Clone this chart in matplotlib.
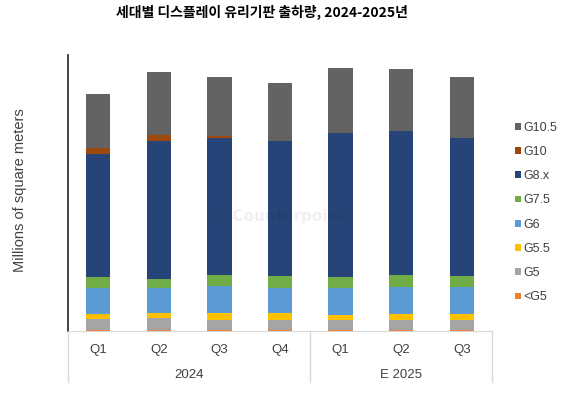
import matplotlib.pyplot as plt
import numpy as np

plt.rcParams['font.family'] = ['Noto Sans CJK KR', 'DejaVu Sans']

# quarters and years
quarters = ["Q1", "Q2", "Q3", "Q4", "Q1", "Q2", "Q3"]
years = ["2024", "E 2025"]
year_spans = [(0, 4), (4, 7)]

# shipments by glass generation (arbitrary units)
lt_g5 = [1.0, 1.0, 1.0, 1.0, 1.0, 1.0, 1.0]
g5 = [10.7, 11.7, 10.0, 9.7, 9.7, 9.7, 9.7]
g5_5 = [5.3, 5.6, 7.3, 7.0, 5.6, 6.0, 6.0]
g6 = [25.7, 24.4, 27.0, 25.6, 26.7, 27.3, 27.3]
g7_5 = [11.6, 9.3, 10.7, 12.0, 11.3, 11.7, 11.3]
g8x = [122.4, 138.0, 137.5, 135.0, 144.0, 144.0, 138.0]
g10 = [6.0, 6.0, 1.5, 0.0, 0.0, 0.0, 0.0]
g10_5 = [54.0, 63.3, 59.3, 58.0, 65.0, 62.6, 61.0]

series = [
    ("<G5", lt_g5, "#ED7D31"),
    ("G5", g5, "#A5A5A5"),
    ("G5.5", g5_5, "#FFC000"),
    ("G6", g6, "#5B9BD5"),
    ("G7.5", g7_5, "#70AD47"),
    ("G8.x", g8x, "#264478"),
    ("G10", g10, "#9E480E"),
    ("G10.5", g10_5, "#636363"),
]

fig = plt.figure(figsize=(5.68, 3.95), dpi=100)
ax = fig.add_axes([68 / 568, 64 / 395, 424 / 568, 276 / 395])

x = np.arange(len(quarters))
bottom = np.zeros(len(quarters))
for name, vals, color in series:
    ax.bar(x, vals, 0.4, bottom=bottom, color=color, label=name)
    bottom += np.array(vals)

ax.set_xlim(-0.5, len(quarters) - 0.5)
ax.set_ylim(0, 276)
ax.set_yticks([])
ax.set_xticks([])
for side in ["top", "right"]:
    ax.spines[side].set_visible(False)
ax.spines["left"].set_color("#222222")
ax.spines["left"].set_linewidth(1.2)
ax.spines["bottom"].set_color("#d9d9d9")

# two-level category axis
txt = "#404040"
for i, q in enumerate(quarters):
    ax.text(i, -18.5, q, ha="center", va="center", fontsize=9.5, color=txt,
            family="Liberation Sans")
for (a, b), yr in zip(year_spans, years):
    ax.text((a + b - 1) / 2, -43.5, yr, ha="center", va="center", fontsize=9.5,
            color=txt, family="Liberation Sans")
for pos in [-0.5, 3.5, 6.5]:
    ax.plot([pos, pos], [0, -51], color="#d9d9d9", lw=1, clip_on=False)

fig.text(20 / 568, 1 - 190 / 395, "Millions of square meters", rotation=90,
         ha="center", va="center", fontsize=10.5, color=txt,
         family="Liberation Sans")

# faint watermark
ax.text(3.0, 115, "\u25CE Counterpoint", ha="center", va="center", fontsize=11,
        color="#000000", alpha=0.06, fontweight="bold", family="DejaVu Sans")

handles, labels = ax.get_legend_handles_labels()
leg = fig.legend(handles[::-1], labels[::-1], loc="center left",
                 bbox_to_anchor=(515 / 568, 1 - 212.5 / 395), frameon=False,
                 borderpad=0, borderaxespad=0,
                 handlelength=0.45, handleheight=0.45, handletextpad=0.25,
                 labelspacing=0.98, prop={"family": "Liberation Sans", "size": 9})
for t in leg.get_texts():
    t.set_color(txt)

fig.suptitle("세대별 디스플레이 유리기판 출하량, 2024-2025년", x=262 / 568, y=1 - 12 / 395,
             va="center", fontsize=10, fontweight="bold")

fig.savefig("out.png", dpi=100)
